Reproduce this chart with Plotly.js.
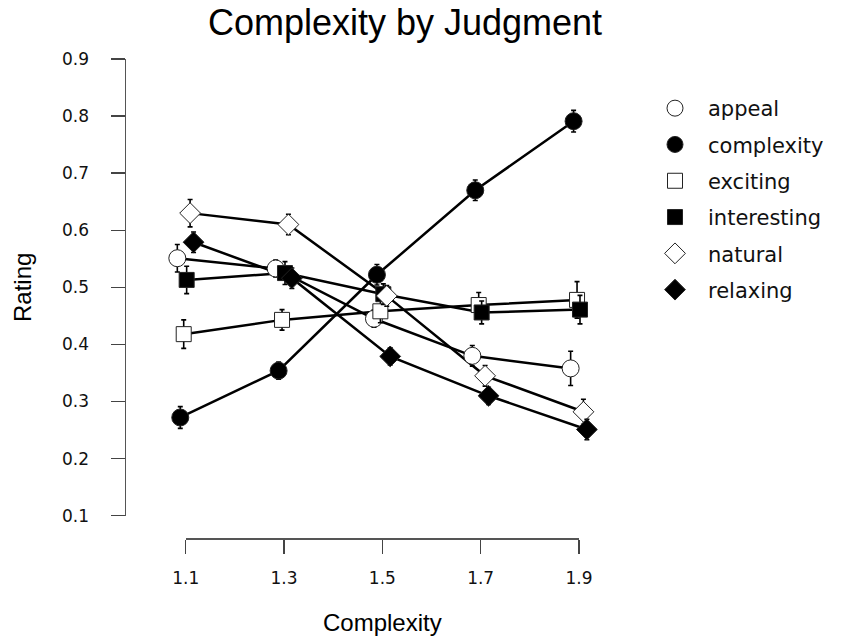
<!DOCTYPE html>
<html>
<head>
<meta charset="utf-8">
<script src="https://cdn.plot.ly/plotly-3.0.1.min.js"></script>
<style>html,body{margin:0;padding:0;background:#fff;}#chart{width:851px;height:643px;}</style>
</head>
<body>
<div id="chart"></div>
<script>
// ---- data ----
const complexityLevels = [1.1, 1.3, 1.5, 1.7, 1.9];
const xTickLabels = ['1.1', '1.3', '1.5', '1.7', '1.9'];
const yTickValues = [0.1, 0.2, 0.3, 0.4, 0.5, 0.6, 0.7, 0.8, 0.9];
const yTickLabels = ['0.1', '0.2', '0.3', '0.4', '0.5', '0.6', '0.7', '0.8', '0.9'];
const seriesNames = ['appeal', 'complexity', 'exciting', 'interesting', 'natural', 'relaxing'];

const appeal      = [0.551, 0.533, 0.445, 0.380, 0.358];
const complexity  = [0.272, 0.354, 0.522, 0.670, 0.791];
const exciting    = [0.418, 0.443, 0.458, 0.469, 0.478];
const interesting = [0.513, 0.525, 0.488, 0.456, 0.461];
const natural     = [0.630, 0.610, 0.485, 0.345, 0.282];
const relaxing    = [0.579, 0.516, 0.379, 0.310, 0.251];

const appealErr      = [0.024, 0.015, 0.015, 0.018, 0.030];
const complexityErr  = [0.019, 0.015, 0.018, 0.018, 0.019];
const excitingErr    = [0.025, 0.018, 0.020, 0.022, 0.032];
const interestingErr = [0.024, 0.020, 0.018, 0.020, 0.025];
const naturalErr     = [0.024, 0.018, 0.018, 0.018, 0.022];
const relaxingErr    = [0.018, 0.018, 0.015, 0.015, 0.018];

// ---- styling ----
const values = [appeal, complexity, exciting, interesting, natural, relaxing];
const errors = [appealErr, complexityErr, excitingErr, interestingErr, naturalErr, relaxingErr];
const dodge  = [-0.017, -0.011, -0.004, 0.002, 0.009, 0.016];
const symbols = ['circle', 'circle', 'square', 'square', 'diamond', 'diamond'];
const fills   = ['#ffffff', '#000000', '#ffffff', '#000000', '#ffffff', '#000000'];
const sizes   = [17, 17, 15, 15, 16, 16];

// tick-axis domains (detached axes) and matching data ranges
const xd = [0.1259, 0.9557];
const yd = [0.0466, 1.0];
const xs = 0.8 / (xd[1] - xd[0]);
const ys = 0.8 / (yd[1] - yd[0]);
const xRange = [1.1 - xd[0] * xs, 1.9 + (1 - xd[1]) * xs];
const yRange = [0.1 - yd[0] * ys, 0.9 + (1 - yd[1]) * ys];

const traces = [];
// empty traces so the detached tick axes are drawn
traces.push({x: [], y: [], xaxis: 'x2', yaxis: 'y', type: 'scatter', mode: 'markers', showlegend: false, hoverinfo: 'skip'});
traces.push({x: [], y: [], xaxis: 'x', yaxis: 'y2', type: 'scatter', mode: 'markers', showlegend: false, hoverinfo: 'skip'});
values.forEach((v, i) => {
  traces.push({
    x: complexityLevels.map(c => c + dodge[i]), y: v,
    mode: 'lines', type: 'scatter', showlegend: false, hoverinfo: 'skip',
    line: {color: '#000', width: 2.5}
  });
});
values.forEach((v, i) => {
  traces.push({
    x: complexityLevels.map(c => c + dodge[i]), y: v,
    name: seriesNames[i], legendgroup: seriesNames[i],
    mode: 'markers', type: 'scatter',
    marker: {symbol: symbols[i], size: sizes[i], color: fills[i],
             line: {color: '#222', width: 1}},
    error_y: {type: 'data', array: errors[i], visible: true,
              color: '#000', thickness: 1.6, width: 2.5}
  });
});

const tickFont = {family: 'DejaVu Sans', size: 17, color: '#111'};
const layout = {
  width: 851, height: 643,
  paper_bgcolor: '#fff', plot_bgcolor: 'rgba(0,0,0,0)',
  margin: {l: 126, r: 251, t: 59, b: 105},
  showlegend: true,
  title: {text: 'Complexity by Judgment', font: {family: 'Liberation Sans', size: 36, color: '#000'},
          x: 405 / 851, xref: 'container', xanchor: 'center',
          y: 1 - 22 / 643, yref: 'container', yanchor: 'middle'},
  xaxis: {range: xRange, visible: false, fixedrange: true},
  yaxis: {range: yRange, visible: false, fixedrange: true},
  xaxis2: {domain: xd, range: [1.1, 1.9], anchor: 'y', fixedrange: true,
           tickvals: complexityLevels, ticktext: xTickLabels,
           ticks: 'outside', ticklen: 14, tickwidth: 1.5, tickcolor: '#444',
           showline: true, linecolor: '#555', linewidth: 1.5,
           showgrid: false, zeroline: false, tickfont: tickFont, ticklabelstandoff: 10,
           title: {text: 'Complexity', font: {family: 'Liberation Sans', size: 24, color: '#000'}, standoff: 27}},
  yaxis2: {domain: yd, range: [0.1, 0.9], anchor: 'x', side: 'left', fixedrange: true,
           tickvals: yTickValues, ticktext: yTickLabels,
           ticks: 'outside', ticklen: 14, tickwidth: 1.5, tickcolor: '#444',
           showline: true, linecolor: '#555', linewidth: 1.5,
           showgrid: false, zeroline: false, tickfont: tickFont, ticklabelstandoff: 18,
           title: {text: 'Rating', font: {family: 'Liberation Sans', size: 24, color: '#000'}, standoff: 23}},
  legend: {xref: 'container', yref: 'container', x: 642 / 851, xanchor: 'left',
           y: 1 - 88 / 643, yanchor: 'top',
           font: {family: 'DejaVu Sans', size: 21, color: '#111'},
           itemwidth: 56, traceorder: 'grouped', tracegroupgap: 6,
           bgcolor: 'rgba(0,0,0,0)', borderwidth: 0}
};

Plotly.newPlot('chart', traces, layout, {displayModeBar: false, staticPlot: true});
</script>
</body>
</html>
